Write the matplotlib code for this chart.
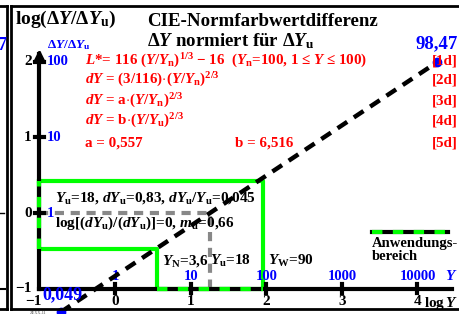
import numpy as np
import matplotlib
matplotlib.use('Agg')
import matplotlib.pyplot as plt

plt.rcParams['font.family'] = ['Liberation Serif', 'DejaVu Serif']
plt.rcParams['font.weight'] = 'bold'
plt.rcParams['mathtext.fontset'] = 'custom'
plt.rcParams['mathtext.rm'] = 'Liberation Serif:bold'
plt.rcParams['mathtext.it'] = 'Liberation Serif:bold:italic'
plt.rcParams['mathtext.bf'] = 'Liberation Serif:bold'

# data
x_ticks = [-1, 0, 1, 2, 3, 4]
y_ticks = [-1, 0, 1, 2]
y_blue_labels = ['1', '10', '100']          # at log 0, 1, 2
x_blue_labels = ['1', '10', '100', '1000', '10000']   # at log 0..4
line_logY = [-0.72, 4.26]
line_ratio = [0.049, 98.47]
Y_N, Y_u, Y_W = 3.6, 18, 90
box_top, box_low = 0.42, -0.47

W, H = 459, 314
fig = plt.figure(figsize=(W / 100, H / 100), dpi=100)
ax = fig.add_axes([0, 0, 1, 1])
ax.set_xlim(-1.522, 4.549)
ax.set_ylim(-1.334, 2.814)
ax.axis('off')

def px(x, y):
    return (x / W, 1 - y / H)

# frame
for xs, ys in [([0, 6.5], [6, 6]), ([10.5, 459], [6, 6]), ([6.5, 6.5], [6, 309]),
               ([10.5, 10.5], [6, 309]), ([0, 6.5], [309, 309]), ([10.5, 459], [309, 309])]:
    fig.add_artist(plt.Line2D([x / W for x in xs], [1 - y / H for y in ys], color='black', lw=2))
# bits of neighbouring figure
fig.text(*px(7, 46), '7', color='blue', fontsize=13, ha='right', va='center')
fig.add_artist(plt.Line2D([0, 4 / W], [1 - 213 / H] * 2, color='black', lw=1))
fig.add_artist(plt.Line2D([0, 5 / W], [1 - 289 / H] * 2, color='black', lw=1.5))
fig.text(*px(30, 313), 'ZEXX-11', color='gray', fontsize=3, ha='left', va='center')

# green application range
lx = np.log10(Y_N)
rx = np.log10(Y_W)
gx = [-1, rx, rx, lx, lx, -1, -1]
gy = [box_top, box_top, -1, -1, box_low, box_low, box_top]
ax.plot(gx, gy, color='#00ff00', lw=3, zorder=2)

# axes
ax.plot([-1, 4.45], [-1, -1], color='black', lw=3, zorder=3)
ax.annotate('', xy=(4.56, -1), xytext=(4.3, -1),
            arrowprops=dict(arrowstyle='-|>,head_width=0.3,head_length=0.6', color='black', lw=2), zorder=3)
ax.plot([-1, -1], [-1, 2.1], color='black', lw=3, zorder=3)
ax.annotate('', xy=(-1, 2.2), xytext=(-1, 1.95),
            arrowprops=dict(arrowstyle='-|>,head_width=0.3,head_length=0.6', color='black', lw=2), zorder=3)
for t in x_ticks[1:]:
    ax.plot([t, t], [-1.06, -0.94], color='black', lw=3, zorder=3)
for t in y_ticks[1:]:
    ax.plot([-1.06, -0.94], [t, t], color='black', lw=3, zorder=3)

# green dashed on axis parts
ax.plot([lx, rx], [-1, -1], color='#00ff00', lw=3, dashes=(2.5, 2.5), zorder=4)
ax.plot([-1, -1], [box_low, box_top], color='#00ff00', lw=3, dashes=(2.5, 2.5), zorder=4)

# gray reference for Y_u
ux = np.log10(Y_u)
ax.plot([-1, ux, ux], [0, 0, -1], color='#888888', lw=3, dashes=(2.2, 1.6), zorder=2)

# dashed curve
ly = np.log10(line_ratio)
ax.plot(line_logY, ly, color='black', lw=3.2, dashes=(2.6, 1.8), zorder=5)
ax.plot(line_logY, ly, 'o', color='blue', ms=6, zorder=6)

# tick labels
for t in y_ticks:
    lab = '\u22121' if t < 0 else str(t)
    ax.text(-1.1, t, lab, ha='right', va='center', fontsize=11)
for t in x_ticks:
    if t < 0:
        ax.text(-0.97, -1.08, '\u22121', ha='right', va='top', fontsize=11)
    else:
        ax.text(t, -1.08, str(t), ha='center', va='top', fontsize=11)
for i, lab in enumerate(y_blue_labels):
    ax.text(-0.9, i, lab, ha='left', va='center', color='blue', fontsize=10.5)
for i, lab in enumerate(x_blue_labels):
    ax.text(i, -0.93, lab, ha='center', va='bottom', color='blue', fontsize=10.5)
ax.text(4.44, -0.92, '$Y$', ha='center', va='bottom', color='blue', fontsize=11)
ax.text(4.08, -1.08, 'log$\\,Y$', ha='left', va='top', fontsize=11)
fig.text(*px(42, 295), '0,049', color='blue', fontsize=13, ha='left', va='center')
fig.text(*px(458, 44), '98,47', color='blue', fontsize=13.5, ha='right', va='center')

# titles
fig.text(*px(15, 19), 'log($\\Delta Y$/$\\Delta Y_\\mathrm{u}$)', fontsize=14, ha='left', va='center')
fig.text(*px(147, 21), 'CIE-Normfarbwertdifferenz', fontsize=13.6, ha='left', va='center')
fig.text(*px(147, 41), '$\\Delta Y$ normiert für $\\Delta Y_\\mathrm{u}$', fontsize=13.6, ha='left', va='center')
fig.text(*px(47, 45), '$\\Delta Y$/$\\Delta Y_\\mathrm{u}$', color='blue', fontsize=9.5, ha='left', va='center')

# formulas
red_lines = [
    '$L$*= 116 ($Y$/$Y_\\mathrm{n}$)$^{1/3}$ \u2212 16  ($Y_\\mathrm{n}$=100, 1 \u2264 $Y$ \u2264 100)',
    '$dY$ = (3/116)$\\cdot$($Y$/$Y_\\mathrm{n}$)$^{2/3}$',
    '$dY$ = a$\\cdot$($Y$/$Y_\\mathrm{n}$)$^{2/3}$',
    '$dY$ = b$\\cdot$($Y$/$Y_\\mathrm{u}$)$^{2/3}$',
    'a = 0,557',
]
red_y = [61, 80, 101, 121, 143]
for s, y in zip(red_lines, red_y):
    fig.text(*px(85, y), s, color='red', fontsize=10.8, ha='left', va='center')
fig.text(*px(235, 143), 'b = 6,516', color='red', fontsize=10.8, ha='left', va='center')
for i, y in enumerate(red_y):
    fig.text(*px(458, y), '[%dd]' % (i + 1), color='red', fontsize=10.8, ha='right', va='center')

# annotations
fig.text(*px(55, 198), '$Y_\\mathrm{u}$=18, $dY_\\mathrm{u}$=0,83, $dY_\\mathrm{u}$/$Y_\\mathrm{u}$=0,045',
         fontsize=11, ha='left', va='center')
fig.text(*px(55, 223), 'log[($dY_\\mathrm{u}$)/($dY_\\mathrm{u}$)]=0, $m_\\mathrm{u}$=0,66',
         fontsize=11, ha='left', va='center')
fig.text(*px(162, 261), '$Y_\\mathrm{N}$=3,6', fontsize=11, ha='left', va='center')
fig.text(*px(210, 261), '$Y_\\mathrm{u}$=18', fontsize=11, ha='left', va='center')
fig.text(*px(268, 261), '$Y_\\mathrm{W}$=90', fontsize=11, ha='left', va='center')

# legend
fig.add_artist(plt.Line2D([372 / W, 448 / W], [1 - 232 / H] * 2, color='black', lw=3))
fig.add_artist(plt.Line2D([372 / W, 448 / W], [1 - 232 / H] * 2, color='#00ff00', lw=3, dashes=(2.5, 2.5)))
fig.text(*px(372, 243), 'Anwendungs-', fontsize=10.5, ha='left', va='center')
fig.text(*px(372, 257), 'bereich', fontsize=10.5, ha='left', va='center')

fig.savefig('out.png', dpi=100)
